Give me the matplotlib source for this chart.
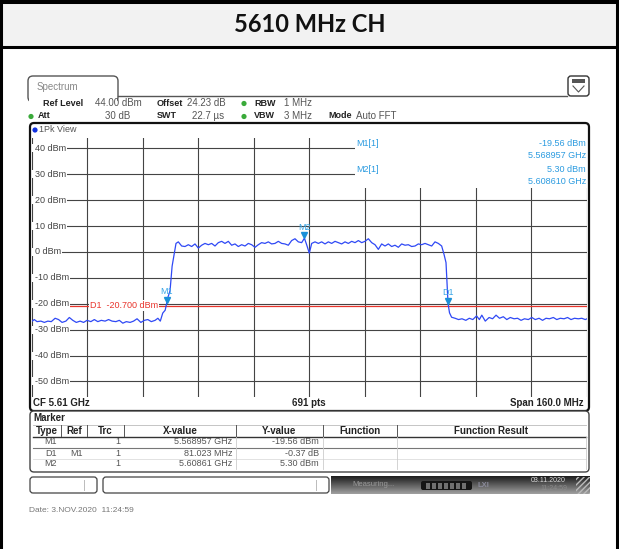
import numpy as np
import matplotlib.pyplot as plt
from matplotlib.patches import Rectangle, FancyBboxPatch, Circle
from matplotlib.transforms import offset_copy

plt.rcParams['font.family'] = ['Liberation Sans', 'DejaVu Sans']

# trace, MHz / dBm
left_freq = [5530.0, 5530.8, 5531.6, 5532.7, 5533.7, 5534.7, 5535.7, 5536.8, 5537.8,
             5538.8, 5539.9, 5540.9, 5541.9, 5542.9, 5544.0, 5545.0, 5546.0, 5547.1,
             5548.1, 5549.1, 5550.1, 5551.2, 5552.2, 5553.2, 5554.3, 5555.3, 5556.3,
             5557.3, 5558.4, 5559.4, 5560.4, 5561.5, 5562.5, 5563.5, 5564.5, 5565.6,
             5566.4, 5567.1, 5567.8, 5568.5, 5568.957, 5569.3, 5569.9, 5570.2, 5570.5]
left_level = [-26.9, -26.1, -26.9, -26.7, -27.2, -26.7, -26.9, -25.6, -26.1,
              -27.2, -26.7, -25.3, -26.4, -27.2, -26.7, -27.2, -26.4, -26.9,
              -26.1, -26.9, -26.4, -26.7, -26.1, -26.7, -26.9, -26.4, -27.5,
              -26.9, -27.2, -26.7, -25.8, -27.2, -26.4, -26.1, -26.9, -26.4,
              -25.6, -26.7, -23.6, -22.5, -19.56, -17.5, -15.0, -10.0, -5.5]

band_freq = [5570.85, 5571.62, 5572.29, 5573.25, 5574.21, 5575.17, 5576.13, 5577.09,
             5578.05, 5579.01, 5579.97, 5580.93, 5581.89, 5582.85, 5583.81, 5584.77,
             5585.73, 5586.69, 5587.65, 5588.61, 5589.57, 5590.53, 5591.49, 5592.45,
             5593.41, 5594.37, 5595.33, 5596.29, 5597.25, 5598.21, 5599.17, 5600.13,
             5601.09, 5602.05, 5603.01, 5603.97, 5604.93, 5605.89, 5606.85, 5607.81,
             5608.61, 5609.25, 5610.02, 5610.70, 5611.66, 5612.62, 5613.58, 5614.54,
             5615.50, 5616.46, 5617.42, 5618.38, 5619.34, 5620.30, 5621.26, 5622.22,
             5623.18, 5624.14, 5625.10, 5626.06, 5627.02, 5627.98, 5628.94, 5629.90,
             5630.86, 5631.82, 5632.78, 5633.74, 5634.70, 5635.66, 5636.62, 5637.58,
             5638.54, 5639.50, 5640.46, 5641.42, 5642.38, 5643.34, 5644.30, 5645.26,
             5646.22, 5647.18, 5648.14, 5648.81, 5649.39, 5649.70]
band_level = [-2.8, 3.3, 3.9, 2.3, 2.1, 2.8, 2.1, 3.1,
              1.5, 2.6, 3.3, 2.8, 3.3, 2.3, 3.6, 4.1,
              3.3, 4.1, 2.6, 3.1, 2.1, 2.8, 2.3, 3.3,
              2.8, 1.8, 2.8, 3.6, 3.3, 3.9, 3.1, 3.3,
              4.1, 3.3, 3.1, 2.6, 4.4, 5.1, 3.9, 3.6,
              5.3, 2.8, -0.5, 3.3, 3.9, 3.3, 3.9, 3.1,
              3.9, 3.3, 4.1, 3.6, 3.1, 3.9, 3.3, 4.1,
              3.6, 4.4, 3.6, 4.1, 5.1, 3.6, 2.8, 1.0,
              3.1, 2.3, 3.1, 2.1, 2.6, 1.8, 3.1, 2.6,
              2.8, 2.1, 2.3, 3.1, 2.8, 3.3, 2.8, 2.3,
              3.9, 3.3, 2.3, -0.9, -4.1, -12.0]

right_freq = [5649.98, 5650.4, 5651.0, 5652.0, 5653.0, 5654.0, 5655.1, 5656.1, 5657.1,
              5658.2, 5659.0, 5659.7, 5660.7, 5661.8, 5662.8, 5663.8, 5664.8, 5665.9,
              5666.9, 5667.9, 5669.0, 5670.0, 5671.0, 5672.0, 5673.1, 5674.1, 5675.1,
              5676.2, 5677.2, 5678.2, 5679.2, 5680.3, 5681.3, 5682.3, 5683.4, 5684.4,
              5685.4, 5686.4, 5687.5, 5688.5, 5689.5, 5690.0]
right_level = [-19.93, -23.5, -25.2, -25.6, -26.1, -25.8, -26.4, -25.6, -26.1,
               -24.7, -26.1, -24.4, -26.7, -25.3, -25.8, -24.4, -25.6, -25.0,
               -26.1, -25.3, -25.8, -25.6, -26.4, -25.8, -26.1, -25.3, -26.1,
               -25.6, -26.4, -25.6, -25.8, -25.3, -26.1, -25.6, -25.8, -25.3,
               -26.1, -25.6, -25.8, -25.6, -26.1, -25.8]

m1_freq, m1_level = 5568.957, -19.56
m2_freq, m2_level = 5608.610, 5.30
d1_dfreq, d1_dlevel = 81.023, -0.37
display_line = -20.7

cf_mhz, span_mhz = 5610.0, 160.0
ref_level = 44.0
y_ticks = [40, 30, 20, 10, 0, -10, -20, -30, -40, -50]

W, H = 619, 549
fig = plt.figure(figsize=(W / 100, H / 100), dpi=100)

ui = fig.add_axes([0, 0, 1, 1], zorder=0)
top = fig.add_axes([0, 0, 1, 1], zorder=2)
for a in (ui, top):
    a.set_xlim(0, W)
    a.set_ylim(H, 0)
    a.axis('off')
top.patch.set_alpha(0)

def px_rect(x0, y0, x1, y1):
    return [x0 / W, 1 - y1 / H, (x1 - x0) / W, (y1 - y0) / H]

# outer frame + title band
ui.add_patch(Rectangle((0, 0), W, 46, fc='#f2f2f2', ec='none'))
ui.plot([0, W], [1.5, 1.5], color='k', lw=2.9)
ui.plot([0, W], [46.5, 46.5], color='k', lw=2.2)
ui.plot([1, 1], [0, H], color='k', lw=2.2)
ui.plot([617, 617], [0, H], color='k', lw=2.2)
ui.text(309.5, 25, '5610 MHz CH', ha='center', va='center', fontsize=17,
        fontweight='bold', family='Lato', color='#111')

# spectrum tab and header
ui.add_patch(FancyBboxPatch((28, 76), 90, 26, boxstyle='round,pad=0,rounding_size=5',
                            fc='white', ec='#555', lw=1))
ui.add_patch(Rectangle((29, 96.5), 88, 8, fc='white', ec='none'))
ui.plot([118, 567], [96, 96], color='#555', lw=1)
ui.text(37, 87, 'Spectrum', fontsize=7, color='#888', va='center')
ui.add_patch(FancyBboxPatch((568, 76), 21, 20, boxstyle='round,pad=0,rounding_size=3',
                            fc='white', ec='#333', lw=1))
ui.add_patch(Rectangle((572, 79), 13, 4, fc='#555', ec='none'))
ui.plot([573, 578.5, 584], [86, 92, 86], color='#555', lw=0.8)

lab = dict(fontsize=6.5, va='center', fontweight='bold', color='#222')
val = dict(fontsize=7, va='center', color='#555')
ui.text(43, 103, 'Ref Level', **lab)
ui.text(95, 103, '%.2f dBm' % ref_level, **val)
ui.text(157, 103, 'Offset', **lab)
ui.text(187, 103, '24.23 dB', **val)
ui.text(254, 103, 'RBW', **lab)
ui.text(284, 103, '1 MHz', **val)
ui.text(38, 116, 'Att', **lab)
ui.text(130, 116, '30 dB', ha='right', **val)
ui.text(157, 116, 'SWT', **lab)
ui.text(192, 116, '22.7 µs', **val)
ui.text(254, 116, 'VBW', **lab)
ui.text(284, 116, '3 MHz', **val)
ui.text(328, 116, 'Mode', **lab)
ui.text(356, 116, 'Auto FFT', **val)
for cx, cy in [(244, 103.5), (31, 116.5), (244, 116.5)]:
    ui.add_patch(Circle((cx, cy), 2.6, fc='#3aaa3a', ec='none'))

# graph frame
ui.add_patch(FancyBboxPatch((30, 123), 559, 288, boxstyle='round,pad=0,rounding_size=4',
                            fc='white', ec='#111', lw=1.6))
ui.add_patch(Circle((35, 130), 2.6, fc='#1030e0', ec='none'))
ui.text(39, 130, '1Pk View', fontsize=6.5, color='#555', va='center')
ui.text(33, 403, 'CF 5.61 GHz', fontsize=7, fontweight='bold', color='#222', va='center')
ui.text(309, 403, '691 pts', fontsize=7, fontweight='bold', color='#222',
        va='center', ha='center')
ui.text(584, 403, 'Span %.1f MHz' % span_mhz, fontsize=7, fontweight='bold',
        color='#222', va='center', ha='right')

# spectrum plot
ax = fig.add_axes(px_rect(31.5, 138, 587, 397), zorder=1)
ax.set_xlim(cf_mhz - span_mhz / 2, cf_mhz + span_mhz / 2)
ax.set_ylim(ref_level - 100, ref_level)
ax.set_xticks(np.arange(cf_mhz - span_mhz / 2, cf_mhz + span_mhz / 2 + 1, span_mhz / 10))
ax.set_yticks(y_ticks)
ax.grid(True, color='#444444', lw=0.8)
ax.set_axisbelow(True)
ax.tick_params(length=0, labelbottom=False, labelleft=False)
for s in ax.spines.values():
    s.set_visible(False)

freq = left_freq + band_freq + right_freq
level = left_level + band_level + right_level
ax.axhline(display_line, color='#e8342c', lw=0.9, zorder=2)
ax.plot(freq, level, color='#2f49f5', lw=0.9, zorder=3)

d1_freq = m1_freq + d1_dfreq
d1_level = m1_level + d1_dlevel
mk_tr = offset_copy(ax.transData, fig=fig, x=0, y=3, units='dots')
for name, f, lv in [('M1', m1_freq, m1_level), ('M2', m2_freq, m2_level),
                    ('D1', d1_freq, d1_level)]:
    ax.plot(f, lv, marker='v', ms=4.5, color='#1a90d8', transform=mk_tr, zorder=4)
    ax.annotate(name, (f, lv), xytext=(0, 11), textcoords='offset pixels',
                ha='center', va='center', fontsize=6.5, color='#3aa6e6', zorder=4)

# overlays on grid: y labels, display line label, marker info
for t in y_ticks:
    yp = 138 + (ref_level - t) * 2.59
    top.add_patch(Rectangle((32, yp - 4), 4, 8, fc='white', ec='none'))
    top.text(35, yp, '%d dBm' % t, fontsize=6.5, color='#444', va='center',
             bbox=dict(fc='white', ec='none', pad=0.8))
top.text(90, 138 + (ref_level - display_line) * 2.59, 'D1  %.3f dBm' % display_line,
         fontsize=6.5, color='#e8342c', va='center',
         bbox=dict(fc='white', ec='none', pad=0.6))
top.add_patch(Rectangle((355, 136), 232, 52, fc='white', ec='none'))
mk = dict(fontsize=6.5, color='#2b9be0', va='center')
top.text(356, 144, 'M1[1]', **mk)
top.text(586, 144, '%.2f dBm' % m1_level, ha='right', **mk)
top.text(586, 156, '%.6f GHz' % (m1_freq / 1000), ha='right', **mk)
top.text(356, 169.5, 'M2[1]', **mk)
top.text(586, 169.5, '%.2f dBm' % m2_level, ha='right', **mk)
top.text(586, 181.5, '%.6f GHz' % (m2_freq / 1000), ha='right', **mk)

# marker table
ui.add_patch(FancyBboxPatch((30, 411), 559, 61, boxstyle='round,pad=0,rounding_size=4',
                            fc='white', ec='#444', lw=1))
ui.text(33, 418, 'Marker', fontsize=7, fontweight='bold', color='#222', va='center')
col_edges = [33, 61, 87, 124, 236, 323, 397, 586]
headers = ['Type', 'Ref', 'Trc', 'X-value', 'Y-value', 'Function', 'Function Result']
rows = [['M1', '', '1', '%.6f GHz' % (m1_freq / 1000), '%.2f dBm' % m1_level],
        ['D1', 'M1', '1', '%.3f MHz' % d1_dfreq, '%.2f dB' % d1_dlevel],
        ['M2', '', '1', '%.5f GHz' % (m2_freq / 1000), '%.2f dBm' % m2_level]]
row_y = [442, 453, 464]
ui.plot([33, 586], [424.5, 424.5], color='#bbb', lw=0.6)
ui.plot([33, 586], [436.5, 436.5], color='#333', lw=1.0)
ui.plot([33, 586], [447.5, 447.5], color='#777', lw=0.8)
ui.plot([33, 586], [458.5, 458.5], color='#ddd', lw=0.6)
for i, h in enumerate(headers):
    ui.text((col_edges[i] + col_edges[i + 1]) / 2, 430.5, h, fontsize=7,
            fontweight='bold', color='#222', ha='center', va='center')
for xe in col_edges[1:-1]:
    ui.plot([xe, xe], [425, 436], color='#555', lw=0.7)
for xe in col_edges[4:]:
    ui.plot([xe, xe], [437, 469], color='#ccc', lw=0.6)
for ry, r in zip(row_y, rows):
    for i, v in enumerate(r):
        ui.text(col_edges[i + 1] - 4, ry, v, fontsize=6.5, color='#555',
                ha='right', va='center')

# status bar
ui.add_patch(FancyBboxPatch((30, 477), 67, 16, boxstyle='round,pad=0,rounding_size=3',
                            fc='white', ec='#444', lw=0.9))
ui.plot([84, 84], [480, 490], color='#bbb', lw=0.7)
ui.add_patch(FancyBboxPatch((103, 477), 226, 16, boxstyle='round,pad=0,rounding_size=3',
                            fc='white', ec='#444', lw=0.9))
ui.plot([316, 316], [480, 490], color='#bbb', lw=0.7)
grad = np.linspace(0.12, 0.62, 20).reshape(-1, 1)
ui.imshow(grad, extent=[331, 590, 494, 476], cmap='gray', vmin=0, vmax=1,
          aspect='auto', zorder=1)
ui.text(352, 485, 'Measuring...', fontsize=5.5, color='#9a9a9a', va='center', zorder=2)
ui.add_patch(FancyBboxPatch((421, 481), 51, 9, boxstyle='round,pad=0,rounding_size=2',
                            fc='#151515', ec='none', zorder=2))
for k in range(7):
    ui.add_patch(Rectangle((426 + k * 6, 482.5), 4, 6, fc='#707070', ec='none', zorder=3))
ui.text(478, 485.5, 'LXI', fontsize=5.5, fontweight='bold', color='#8a8a9a',
        va='center', zorder=2)
ui.text(548, 481, '03.11.2020', fontsize=5, color='#dddddd', va='center',
        ha='center', zorder=2)
ui.text(554, 489, '11:24:59', fontsize=5, color='#8a8a8a', va='center',
        ha='center', zorder=2)
ui.add_patch(Rectangle((576, 477), 14, 17, fc='none', ec='#bbbbbb', hatch='//////',
                       lw=0, zorder=2))

ui.text(29, 511, 'Date: 3.NOV.2020  11:24:59', fontsize=6, color='#777', va='center')

ui.set_xlim(0, W)
ui.set_ylim(H, 0)

fig.savefig('out.png', dpi=100)
